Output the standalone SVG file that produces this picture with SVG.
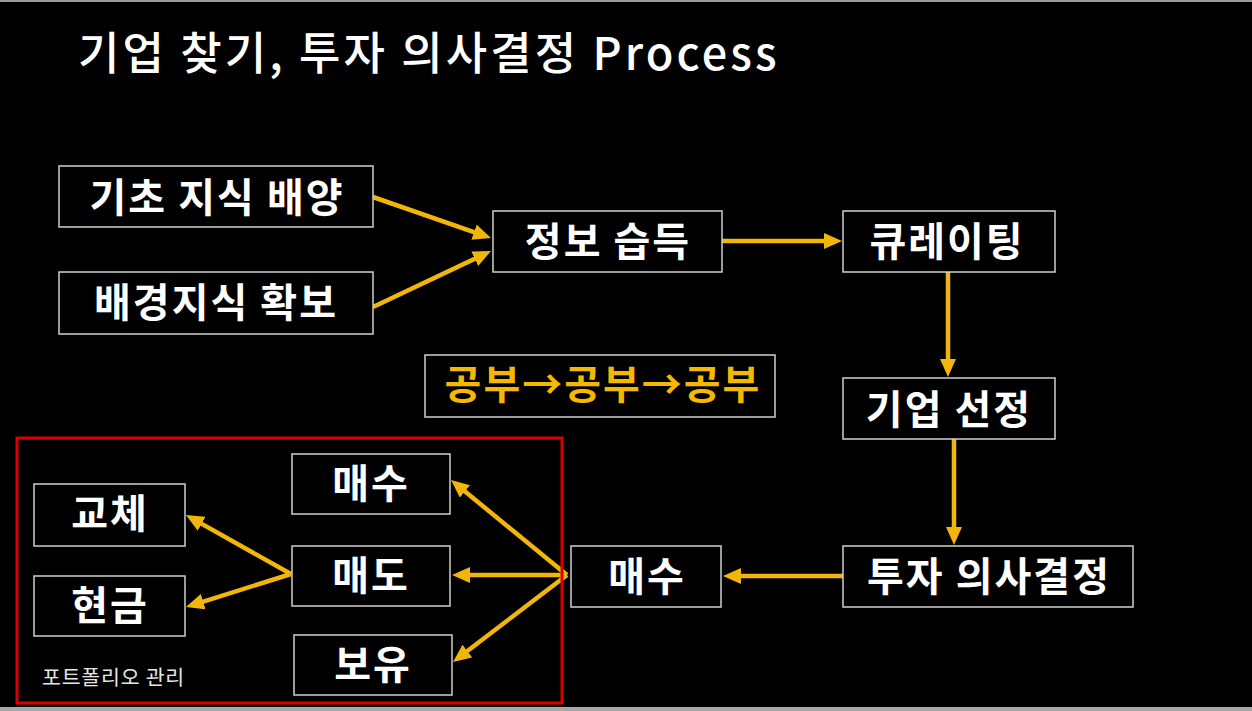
<svg xmlns="http://www.w3.org/2000/svg" width="1252" height="711" viewBox="0 0 1252 711">
<style>
.box{fill:#000;stroke:#cfcfcf;stroke-width:1.5}
.lbl{font-family:"Noto Sans CJK KR","Noto Sans",sans-serif;font-weight:700;font-size:40px;fill:#ffffff;text-anchor:middle;letter-spacing:2px}
.arr{stroke:#F2B50A;stroke-width:4.5;fill:none;marker-end:url(#ah)}
</style>
<defs>
<marker id="ah" markerUnits="userSpaceOnUse" markerWidth="18" markerHeight="16" viewBox="0 0 18 16" refX="9" refY="8" orient="auto">
<path d="M0,0 L18,8 L0,16 z" fill="#F2B50A"/>
</marker>
</defs>
<rect x="0" y="0" width="1252" height="711" fill="#000"/>
<rect x="0" y="0" width="1252" height="2" fill="#9a9a9a"/>
<rect x="0" y="707" width="1252" height="4" fill="#a8a8a8"/>
<text x="78" y="70" font-family="'Noto Sans CJK KR','Noto Sans',sans-serif" font-size="45" font-weight="500" letter-spacing="3.1" fill="#ffffff">기업 찾기, 투자 의사결정 Process</text>

<g id="connectors">
<line class="arr" x1="373" y1="197" x2="482.5" y2="235.1"/>
<line class="arr" x1="373" y1="307" x2="482.9" y2="254.9"/>
<line class="arr" x1="722" y1="241" x2="833" y2="241"/>
<line class="arr" x1="948" y1="272" x2="948" y2="368"/>
<line class="arr" x1="954" y1="439" x2="954" y2="536"/>
<line class="arr" x1="843" y1="576" x2="732" y2="576"/>
<line class="arr" x1="567" y1="575" x2="458" y2="485.7"/>
<line class="arr" x1="567" y1="575" x2="461" y2="575"/>
<line class="arr" x1="567" y1="575" x2="460.2" y2="656.5"/>
<line class="arr" x1="291" y1="574" x2="193.8" y2="519.4"/>
<line class="arr" x1="291" y1="574" x2="194.6" y2="604.3"/>
</g>

<g id="portfolio">
<rect x="17" y="438" width="545" height="265" fill="none" stroke="#d90000" stroke-width="3"/>
<text x="42" y="685" font-family="'Noto Sans CJK KR','Noto Sans',sans-serif" font-size="20.5" letter-spacing="0.8" fill="#e6e6e6">포트폴리오 관리</text>
</g>

<g id="n-basic"><rect class="box" x="59" y="166" width="314" height="61"/><text class="lbl" x="217" y="212" letter-spacing="2.4">기초 지식 배양</text></g>
<g id="n-background"><rect class="box" x="59" y="272" width="314" height="62"/><text class="lbl" x="216" y="317" letter-spacing="2.5">배경지식 확보</text></g>
<g id="n-info"><rect class="box" x="493" y="211" width="229" height="61"/><text class="lbl" x="608" y="256" letter-spacing="3.2">정보 습득</text></g>
<g id="n-curation"><rect class="box" x="843" y="211" width="212" height="61"/><text class="lbl" x="947" y="256" letter-spacing="1.5">큐레이팅</text></g>
<g id="n-select"><rect class="box" x="843" y="378" width="212" height="61"/><text class="lbl" x="949" y="424" letter-spacing="2.5">기업 선정</text></g>
<g id="n-decision"><rect class="box" x="843" y="546" width="290" height="61"/><text class="lbl" x="989" y="591" letter-spacing="1.7">투자 의사결정</text></g>
<g id="n-buy"><rect class="box" x="571" y="546" width="150" height="61"/><text class="lbl" x="647" y="591" letter-spacing="1">매수</text></g>
<g id="n-study"><rect class="box" x="425" y="355" width="350" height="62"/><text class="lbl" x="603" y="399" style="fill:#F5B800" letter-spacing="7.5">공부→공부→공부</text></g>
<g id="n-buy2"><rect class="box" x="292" y="454" width="158" height="60"/><text class="lbl" x="371" y="498" letter-spacing="1">매수</text></g>
<g id="n-sell"><rect class="box" x="292" y="546" width="158" height="60"/><text class="lbl" x="371" y="590" letter-spacing="1">매도</text></g>
<g id="n-hold"><rect class="box" x="294" y="635" width="158" height="60"/><text class="lbl" x="373" y="679" letter-spacing="1">보유</text></g>
<g id="n-swap"><rect class="box" x="34" y="484" width="151" height="62"/><text class="lbl" x="110" y="528" letter-spacing="1">교체</text></g>
<g id="n-cash"><rect class="box" x="34" y="576" width="151" height="60"/><text class="lbl" x="110" y="620" letter-spacing="1">현금</text></g>
</svg>
